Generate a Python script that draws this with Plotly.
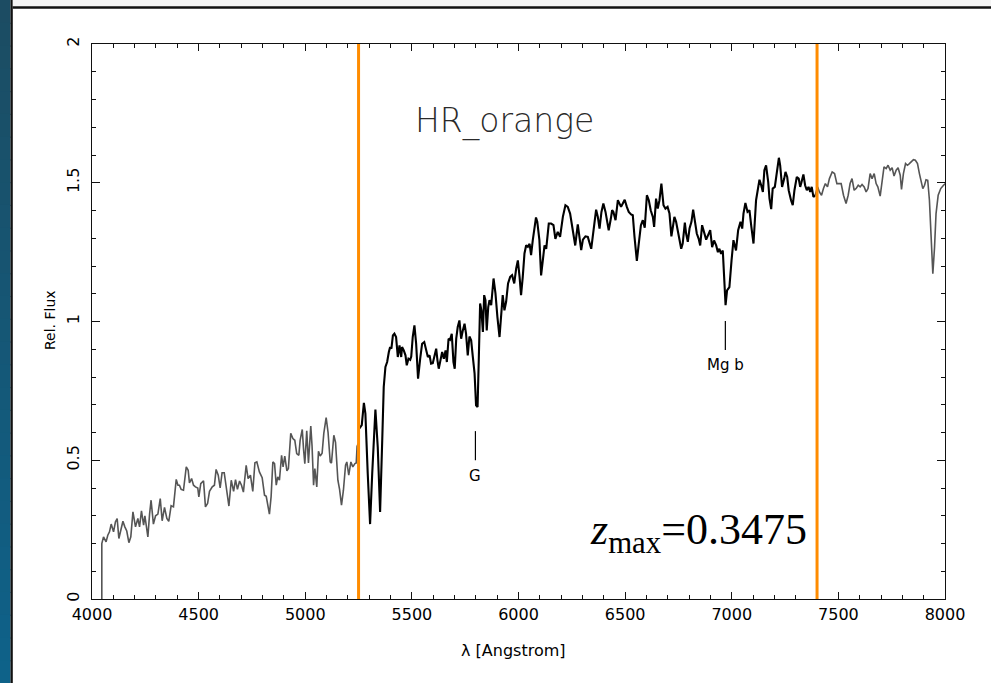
import plotly.graph_objects as go

# ---------------- data ----------------
# blue-side spectrum (outside the window, grey)
wl_blue = [4046, 4046, 4054, 4066, 4074, 4082, 4090, 4101, 4110, 4118,
           4126, 4134, 4145, 4154, 4163, 4173, 4182, 4192, 4204, 4215,
           4223, 4232, 4242, 4248, 4254, 4262, 4270, 4277, 4288, 4298,
           4309, 4320, 4329, 4340, 4351, 4360, 4371, 4382, 4395, 4403,
           4410, 4418, 4429, 4442, 4451, 4457, 4467, 4476, 4485, 4496,
           4501, 4510, 4523, 4532, 4542, 4551, 4564, 4574, 4582, 4592,
           4601, 4610, 4620, 4629, 4642, 4653, 4664, 4673, 4682, 4692,
           4701, 4710, 4723, 4732, 4743, 4754, 4764, 4773, 4785, 4798,
           4809, 4817, 4832, 4840, 4848, 4856, 4864, 4871, 4879, 4889,
           4896, 4904, 4914, 4921, 4932, 4942, 4951, 4960, 4970, 4976,
           4986, 4992, 4998, 5007, 5015, 5026, 5032, 5039, 5045, 5054,
           5062, 5070, 5079, 5087, 5098, 5107, 5117, 5123, 5134, 5142,
           5153, 5161, 5170, 5179, 5189, 5195, 5204, 5214, 5223, 5233,
           5239, 5243, 5248]
flux_blue = [0.0, 0.20, 0.224, 0.206, 0.23, 0.242, 0.27, 0.242, 0.278, 0.29,
             0.218, 0.242, 0.28, 0.26, 0.245, 0.203, 0.224, 0.314, 0.26, 0.29,
             0.26, 0.318, 0.266, 0.30, 0.27, 0.224, 0.306, 0.356, 0.27, 0.30,
             0.306, 0.362, 0.282, 0.33, 0.29, 0.28, 0.336, 0.332, 0.431, 0.41,
             0.41, 0.395, 0.392, 0.476, 0.464, 0.418, 0.434, 0.41, 0.404, 0.40,
             0.368, 0.416, 0.426, 0.332, 0.344, 0.388, 0.404, 0.41, 0.467, 0.446,
             0.40, 0.455, 0.455, 0.404, 0.335, 0.428, 0.388, 0.43, 0.395, 0.425,
             0.41, 0.385, 0.482, 0.434, 0.446, 0.388, 0.491, 0.494, 0.458, 0.437,
             0.374, 0.37, 0.306, 0.37, 0.494, 0.488, 0.41, 0.44, 0.428, 0.518,
             0.476, 0.515, 0.462, 0.47, 0.597, 0.578, 0.572, 0.524, 0.518, 0.572,
             0.611, 0.54, 0.488, 0.606, 0.49, 0.623, 0.55, 0.41, 0.47, 0.404,
             0.532, 0.515, 0.525, 0.597, 0.654, 0.60, 0.494, 0.49, 0.59, 0.564,
             0.428, 0.395, 0.338, 0.392, 0.482, 0.494, 0.446, 0.494, 0.476, 0.488,
             0.49, 0.55, 0.56]

# spectrum inside the HR_orange window (black)
wl_mid = [5254, 5265, 5275, 5282, 5293, 5304, 5314, 5329, 5340, 5351,
          5361, 5368, 5376, 5384, 5392, 5398, 5404, 5411, 5418, 5426,
          5434, 5442, 5450, 5454, 5462, 5470, 5476, 5484, 5492, 5497,
          5504, 5512, 5520, 5529, 5539, 5548, 5558, 5567, 5575, 5583,
          5590, 5598, 5606, 5614, 5620, 5626, 5634, 5642, 5650, 5658,
          5664, 5672, 5679, 5687, 5695, 5701, 5708, 5715, 5723, 5731,
          5739, 5747, 5754, 5762, 5770, 5778, 5786, 5794, 5801, 5808,
          5814, 5820, 5826, 5833, 5839, 5845, 5851, 5858, 5864, 5872,
          5883, 5892, 5901, 5911, 5920, 5926, 5934, 5942, 5951, 5961,
          5970, 5980, 5989, 5997, 6005, 6012, 6020, 6028, 6036, 6044,
          6052, 6059, 6067, 6075, 6082, 6088, 6093,
          6098, 6106, 6114, 6122, 6130, 6142, 6153, 6164, 6173, 6184,
          6195, 6208, 6220, 6231, 6242, 6255, 6266, 6278, 6286, 6294,
          6302, 6314, 6325, 6333, 6341, 6352, 6364, 6372, 6380, 6389,
          6398, 6408, 6417, 6423, 6433, 6439, 6445, 6455, 6466, 6473,
          6481, 6489, 6498, 6508, 6517, 6528, 6536, 6544, 6555, 6564,
          6574, 6583, 6592, 6602, 6611, 6620, 6630, 6636, 6645, 6653,
          6661, 6670, 6680, 6689, 6699, 6708, 6717, 6724, 6731, 6739,
          6747, 6755, 6763, 6770, 6780, 6786, 6794, 6802, 6811, 6819,
          6827, 6836, 6845, 6852, 6861, 6870, 6880, 6889, 6899, 6908,
          6917, 6927, 6935, 6942, 6950, 6958, 6963, 6971, 6978, 6989,
          6999, 7008, 7020, 7030, 7041, 7049, 7055, 7064, 7074, 7083,
          7092, 7102, 7114, 7127,
          7130, 7138, 7146, 7153, 7161, 7171, 7177, 7185, 7192, 7202,
          7211, 7221, 7227, 7236, 7246, 7252, 7260, 7267, 7278, 7286,
          7294, 7305, 7314, 7321, 7327, 7336, 7344, 7352, 7360, 7368,
          7375, 7383, 7391]
flux_mid = [0.615, 0.627, 0.707, 0.668, 0.452, 0.27, 0.452, 0.683, 0.548, 0.314,
            0.572, 0.764, 0.836, 0.854, 0.89, 0.908, 0.902, 0.95, 0.956, 0.944,
            0.872, 0.914, 0.872, 0.908, 0.896, 0.878, 0.842, 0.866, 0.862, 0.874,
            0.944, 0.986, 0.92, 0.794, 0.866, 0.92, 0.926, 0.896, 0.872, 0.878,
            0.848, 0.85, 0.878, 0.902, 0.86, 0.83, 0.86, 0.89, 0.866, 0.896,
            0.854, 0.938, 0.934, 0.956, 0.854, 0.83, 0.938, 0.98, 1.004, 0.938,
            0.968, 0.992, 0.956, 0.878, 0.946, 0.932, 0.872, 0.813, 0.698, 0.692,
            0.872, 1.065, 1.04, 0.962, 1.095, 1.077, 0.968, 1.052, 1.077, 1.059,
            1.155, 1.101, 1.017, 0.944, 1.035, 1.095, 1.04, 1.071, 1.137, 1.161,
            1.167, 1.137, 1.19, 1.22, 1.161, 1.095, 1.161, 1.245, 1.275, 1.269,
            1.28, 1.239, 1.293, 1.34, 1.375, 1.36, 1.31,
            1.293, 1.166, 1.232, 1.274, 1.262, 1.353, 1.353, 1.347, 1.298, 1.323,
            1.305, 1.377, 1.419, 1.413, 1.389, 1.323, 1.274, 1.35, 1.311, 1.257,
            1.295, 1.307, 1.305, 1.287, 1.262, 1.329, 1.403, 1.377, 1.335, 1.395,
            1.425, 1.395, 1.353, 1.329, 1.371, 1.401, 1.395, 1.365, 1.437, 1.427,
            1.413, 1.425, 1.439, 1.413, 1.395, 1.386, 1.383, 1.305, 1.218, 1.281,
            1.347, 1.365, 1.338, 1.455, 1.437, 1.401, 1.377, 1.341, 1.443, 1.407,
            1.437, 1.497, 1.419, 1.407, 1.413, 1.389, 1.307, 1.341, 1.377, 1.359,
            1.329, 1.298, 1.262, 1.281, 1.356, 1.317, 1.287, 1.335, 1.359, 1.403,
            1.353, 1.317, 1.298, 1.274, 1.347, 1.317, 1.295, 1.311, 1.329, 1.268,
            1.292, 1.274, 1.25, 1.262, 1.244, 1.256, 1.161, 1.059, 1.112, 1.124,
            1.22, 1.293, 1.256, 1.329, 1.359, 1.335, 1.389, 1.427, 1.395, 1.401,
            1.341, 1.281, 1.437, 1.509,
            1.511, 1.491, 1.467, 1.545, 1.563, 1.502, 1.443, 1.405, 1.479, 1.485,
            1.533, 1.59, 1.563, 1.485, 1.515, 1.539, 1.521, 1.473, 1.437, 1.419,
            1.473, 1.521, 1.515, 1.485, 1.502, 1.53, 1.491, 1.473, 1.485, 1.467,
            1.485, 1.449, 1.455]

# red-side spectrum (outside the window, grey)
wl_red = [7391, 7403, 7411, 7421, 7430, 7439, 7449, 7458, 7471, 7482,
          7493, 7502, 7513, 7524, 7536, 7546, 7555, 7564, 7574, 7583,
          7593, 7602, 7611, 7621, 7630, 7639, 7649, 7658, 7668, 7677,
          7685, 7696, 7705, 7714, 7724, 7733, 7743, 7752, 7761, 7771,
          7780, 7790, 7796, 7805, 7815, 7824, 7833, 7843, 7852, 7861,
          7871, 7880, 7890, 7896, 7904, 7911, 7919, 7927, 7935, 7943,
          7951, 7958, 7968, 7980, 7993, 8002]
flux_red = [1.455, 1.485, 1.467, 1.455, 1.479, 1.497, 1.485, 1.515, 1.539, 1.533,
            1.497, 1.497, 1.497, 1.455, 1.425, 1.455, 1.497, 1.515, 1.473, 1.479,
            1.491, 1.485, 1.494, 1.485, 1.467, 1.479, 1.533, 1.515, 1.533, 1.497,
            1.485, 1.452, 1.515, 1.557, 1.551, 1.563, 1.545, 1.554, 1.524, 1.545,
            1.554, 1.527, 1.476, 1.533, 1.569, 1.563, 1.569, 1.578, 1.583, 1.581,
            1.569, 1.533, 1.502, 1.479, 1.491, 1.511, 1.509, 1.437, 1.304, 1.172,
            1.268, 1.389, 1.455, 1.479, 1.491, 1.497]

window_edges = [5250, 7400]          # HR_orange wavelength window
line_names = ["G", "Mg b"]           # marked absorption features
line_wl = [5798, 6970]
line_mark_bottom = [0.50, 0.897]
filter_name = "HR_orange"
z_max_text = "0.3475"

x_ticks = [4000, 4500, 5000, 5500, 6000, 6500, 7000, 7500, 8000]
y_ticks = [0, 0.5, 1, 1.5, 2]
y_tick_text = ["0", "0.5", "1", "1.5", "2"]

# ---------------- figure ----------------
GREY = "#555555"
ORANGE = "#ff8c00"
FONT = "DejaVu Sans"

fig = go.Figure()
fig.add_trace(go.Scatter(x=wl_blue, y=flux_blue, mode="lines",
                         line=dict(color=GREY, width=1.6), hoverinfo="skip"))
fig.add_trace(go.Scatter(x=wl_red, y=flux_red, mode="lines",
                         line=dict(color=GREY, width=1.6), hoverinfo="skip"))
fig.add_trace(go.Scatter(x=wl_mid, y=flux_mid, mode="lines",
                         line=dict(color="black", width=2.1), hoverinfo="skip"))

shapes = []
for w in window_edges:
    shapes.append(dict(type="line", xref="x", yref="paper", x0=w, x1=w, y0=0, y1=1,
                       line=dict(color=ORANGE, width=3), layer="above"))
for w, yb in zip(line_wl, line_mark_bottom):
    shapes.append(dict(type="line", xref="x", yref="y", x0=w, x1=w, y0=yb, y1=yb + 0.105,
                       line=dict(color="black", width=1.2)))

# page decoration: left gradient strip, its dark edge, and the top rule
PL, PW = 92.0, 853.0     # plot-area left and width in px
PT, PH = 44.0, 555.0     # plot-area top and height in px


def xp(px):
    return (px - PL) / PW


def yp(py):
    return (PT + PH - py) / PH


top_c = (0x1c, 0x4c, 0x62)
bot_c = (0x0e, 0x62, 0x8a)
nb = 30
for i in range(nb):
    f = (i + 0.5) / nb
    c = tuple(int(round(top_c[k] + (bot_c[k] - top_c[k]) * f)) for k in range(3))
    shapes.append(dict(type="rect", xref="paper", yref="paper",
                       x0=xp(0), x1=xp(10.5),
                       y0=yp(683 * (i + 1) / nb) - 0.002, y1=yp(683 * i / nb),
                       fillcolor="rgb(%d,%d,%d)" % c, line=dict(width=0), layer="below"))
shapes.append(dict(type="rect", xref="paper", yref="paper", x0=xp(10.5), x1=xp(12.8),
                   y0=yp(683), y1=yp(0), fillcolor="#111111", line=dict(width=0), layer="below"))
shapes.append(dict(type="rect", xref="paper", yref="paper", x0=xp(12.8), x1=xp(991),
                   y0=yp(0), y1=yp(6.2), fillcolor="#f4f4f4", line=dict(width=0), layer="below"))
shapes.append(dict(type="rect", xref="paper", yref="paper", x0=xp(12.8), x1=xp(991),
                   y0=yp(8.8), y1=yp(6.2), fillcolor="#111111", line=dict(width=0), layer="below"))

annotations = [
    dict(x=5505, y=1.722, xref="x", yref="y", text=filter_name, showarrow=False,
         xanchor="left", yanchor="middle",
         font=dict(family=FONT, size=33, color="#2a2a2a", weight=200)),
    dict(x=7362, y=0.24, xref="x", yref="y",
         text="<i>z</i><sub>max</sub>=" + z_max_text, showarrow=False,
         xanchor="right", yanchor="middle",
         font=dict(family="Liberation Serif", size=44, color="black")),
    dict(x=xp(50), y=yp(320), xref="paper", yref="paper", text="Rel. Flux",
         showarrow=False, textangle=-90, xanchor="center", yanchor="middle",
         font=dict(family=FONT, size=14, color="black")),
    dict(x=xp(513), y=yp(650), xref="paper", yref="paper", text="λ [Angstrom]",
         showarrow=False, xanchor="center", yanchor="middle",
         font=dict(family=FONT, size=16, color="black")),
]
for name, w, yb in zip(line_names, line_wl, line_mark_bottom):
    annotations.append(dict(x=w, y=yb - 0.055, xref="x", yref="y", text=name,
                            showarrow=False, xanchor="center", yanchor="middle",
                            font=dict(family=FONT, size=15, color="black")))

axis_common = dict(showgrid=False, zeroline=False, showline=True, linecolor="#111111",
                   linewidth=1.3, ticks="inside", mirror="ticks", tickcolor="#111111",
                   tickwidth=1.2, tickfont=dict(family=FONT, size=16, color="black"))

fig.update_layout(
    width=991, height=683,
    margin=dict(l=PL, r=991 - PL - PW, t=PT, b=683 - PT - PH),
    paper_bgcolor="white", plot_bgcolor="white",
    showlegend=False,
    shapes=shapes, annotations=annotations,
    xaxis=dict(range=[4000, 8000], tickvals=x_ticks, ticklen=7, ticklabelstandoff=1,
               minor=dict(dtick=100, tick0=4000, ticks="inside", ticklen=4,
                          tickcolor="#111111", tickwidth=1.1),
               **axis_common),
    yaxis=dict(range=[0, 2], tickvals=y_ticks, ticktext=y_tick_text, ticklen=8,
               tickangle=-90, ticklabelstandoff=5,
               minor=dict(dtick=0.1, tick0=0, ticks="inside", ticklen=4,
                          tickcolor="#111111", tickwidth=1.1),
               **axis_common),
)

fig.write_html("out.html")
